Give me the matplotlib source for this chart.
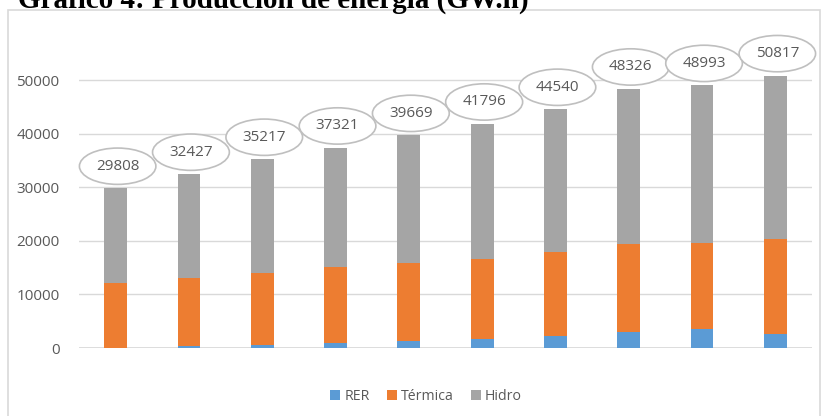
import numpy as np
import matplotlib
matplotlib.use("Agg")
import matplotlib.pyplot as plt
from matplotlib.patches import Rectangle

# Producción de energía (GW.h), por fuente
series = ["RER", "Térmica", "Hidro"]
rer = [50, 370, 620, 860, 1230, 1680, 2240, 2900, 3470, 2540]
termica = [12000, 12750, 13430, 14180, 14630, 15010, 15700, 16590, 16210, 17760]
hidro = [17758, 19307, 21167, 22281, 23809, 25106, 26600, 28836, 29313, 30517]
colors = ["#5B9BD5", "#ED7D31", "#A5A5A5"]

W, H = 822, 416
fig = plt.figure(figsize=(W / 100, H / 100), dpi=100)
plt.rcParams['font.family'] = ['Open Sans', 'DejaVu Sans']

# chart frame
fig.patches.append(Rectangle((8 / W, -0.1), (820 - 8) / W, 1.1 - 10 / H,
                             transform=fig.transFigure, fill=False,
                             ec="#d9d9d9", lw=1.2))

# title sits partly above the top edge, as in the source page
fig.text(18 / W, 1 - 8 / H, "Gráfico 4: Producción de energía (GW.h)",
         family="Liberation Serif", weight="bold", fontsize=21,
         ha="left", va="baseline")

ax = fig.add_axes([79 / W, (H - 348) / H, (812 - 79) / W, (348 - 60) / H])
x = np.arange(len(rer))
rer = np.array(rer)
termica = np.array(termica)
hidro = np.array(hidro)
total = rer + termica + hidro

w = 0.31
ax.bar(x, rer, w, color=colors[0], label=series[0], zorder=3, clip_on=False)
ax.bar(x, termica, w, bottom=rer, color=colors[1], label=series[1], zorder=3, clip_on=False)
ax.bar(x, hidro, w, bottom=rer + termica, color=colors[2], label=series[2], zorder=3, clip_on=False)

for xi, t in zip(x, total):
    ax.annotate(f"{t}", (xi, t), xytext=(2, 22), textcoords="offset pixels",
                ha="center", va="center", fontsize=11, color="#595959",
                annotation_clip=False, zorder=5,
                bbox=dict(boxstyle="ellipse,pad=0.35", fc="white", ec="#bfbfbf", lw=1.2))

ax.set_xlim(-0.5, len(x) - 0.5)
ax.set_ylim(0, 50000 * 288 / 268)
ax.set_yticks(np.arange(0, 50001, 10000))
ax.set_xticks([])
ax.tick_params(axis="y", length=0, labelsize=11, labelcolor="#595959", pad=14)
ax.grid(axis="y", color="#d9d9d9", lw=1, zorder=0)
for s in ax.spines.values():
    s.set_visible(False)
ax.axhline(0, color="#d9d9d9", lw=1.2, zorder=1)

leg = fig.legend(loc="center", bbox_to_anchor=(426 / W, 1 - 396 / H), ncol=3,
                 frameon=False, fontsize=10.2, handlelength=0.7, handleheight=0.7,
                 handletextpad=0.3, columnspacing=1.2)
for t in leg.get_texts():
    t.set_color("#595959")

fig.savefig("out.png", dpi=100)
